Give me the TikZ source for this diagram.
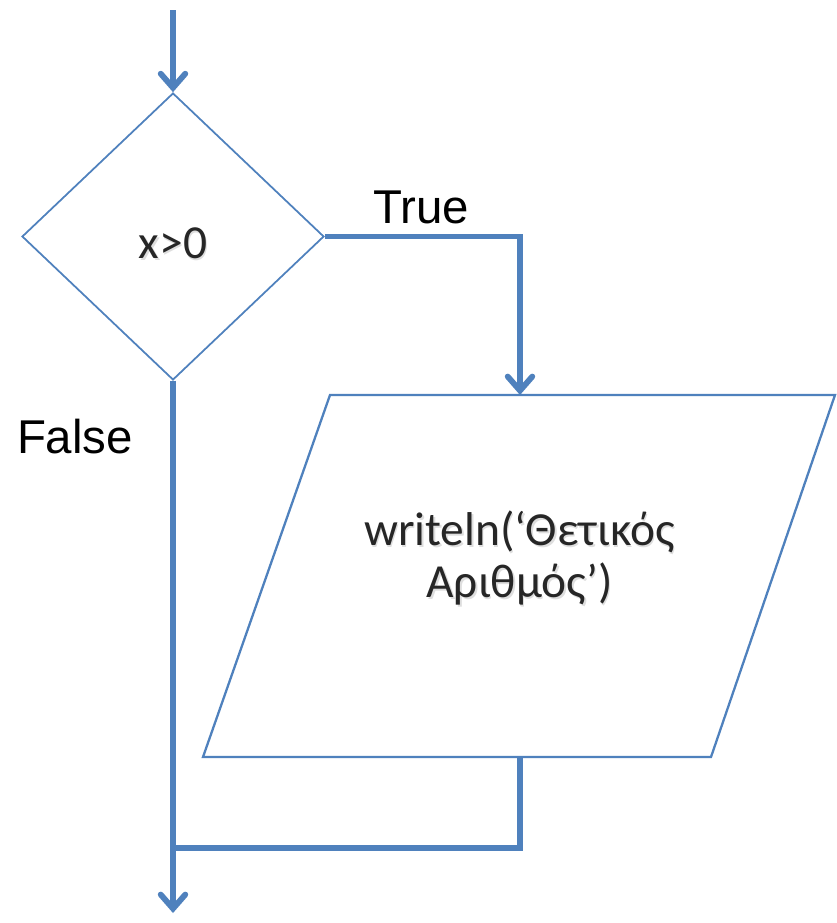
\documentclass[tikz,border=0pt]{standalone}
\usepackage{fontspec}
\usetikzlibrary{shapes.geometric,arrows.meta,calc}
\newfontfamily\shapefont{Carlito}
\newfontfamily\labelfont{Liberation Sans}
\definecolor{flowblue}{RGB}{79,129,189}
\definecolor{shapetext}{RGB}{38,38,38}
\tikzset{
  flowline/.style={draw=flowblue, line width=3.3pt, line join=miter},
  flowarrow/.style={flowline, -{Straight Barb[length=8pt,width=14pt,line cap=round]}},
  decision/.style={shape=diamond, draw=flowblue, line width=1pt, fill=white,
    inner sep=0pt, minimum width=6.04cm, minimum height=5.74cm},
  shapetextstyle/.style={font=\shapefont\fontsize{27}{30}\selectfont, text=shapetext,
    align=center, inner sep=0pt},
  textshadow/.style={shapetextstyle, text=black, opacity=0.13},
  iobox/.style={draw=flowblue, line width=1.3pt, fill=white, line join=miter},
  branchlabel/.style={font=\labelfont\fontsize{27}{30}\selectfont, text=black,
    inner sep=0pt}
}
\begin{document}
\begin{tikzpicture}[x=0.02cm,y=-0.02cm]
  \useasboundingbox (0,0) rectangle (836,923);

  % decision
  \node[decision] (dec) at (173,236.5) {};
  \node[textshadow] at (174.5,245) {x>0};
  \node[shapetextstyle] (cond) at (173,243) {x>0};

  % output parallelogram (corners)
  \coordinate (ptl) at (330,395);
  \coordinate (ptr) at (835,395);
  \coordinate (pbr) at (711,757);
  \coordinate (pbl) at (203,757);
  \draw[iobox] (ptl) -- (ptr) -- (pbr) -- (pbl) -- cycle;
  \node[textshadow] at (521,560) {writeln(‘Θετικός\\Αριθμός’)};
  \node[shapetextstyle] (out) at (519.5,558) {writeln(‘Θετικός\\Αριθμός’)};

  % connector end points
  \coordinate (start) at (173,10);
  \coordinate (intop) at (520,395);
  \coordinate (outbot) at (520,757);
  \coordinate (merge) at (173,848);
  \coordinate (finish) at (173,913);

  % connectors
  \draw[flowarrow] (start) -- (dec.north);
  \draw[flowarrow] (dec.east) -- (dec.east -| intop) -- (intop);
  \draw[flowline] (outbot) -- (outbot |- merge) -- (merge);
  \draw[flowarrow] (dec.south) -- (finish);

  % branch labels
  \node[branchlabel] (ltrue) at (421,207) {True};
  \node[branchlabel] (lfalse) at (75,437) {False};
\end{tikzpicture}
\end{document}
